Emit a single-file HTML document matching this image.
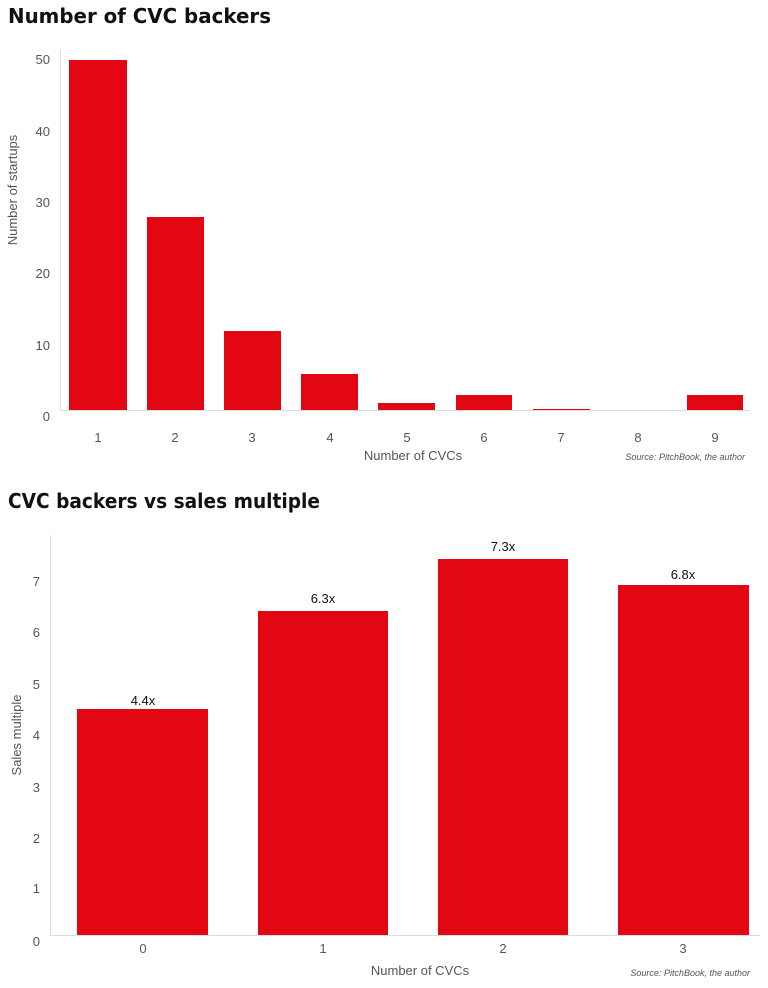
<!DOCTYPE html>
<html><head><meta charset="utf-8"><style>
body{margin:0;background:#fff;width:768px;height:988px;overflow:hidden}
svg{display:block}
.t{font-family:"DejaVu Sans","Liberation Sans",sans-serif;font-weight:bold;font-size:20px;fill:#111}
.l{font-family:"Liberation Sans",sans-serif;font-size:13px;fill:#555}
.s{font-family:"Liberation Sans",sans-serif;font-size:9px;font-style:italic;fill:#555}
.v{font-family:"Liberation Sans",sans-serif;font-size:13px;fill:#111}
</style></head><body>
<svg width="768" height="988" viewBox="0 0 768 988">
<text class="t" x="8" y="23" textLength="263" lengthAdjust="spacingAndGlyphs">Number of CVC backers</text>
<line x1="60.5" y1="50" x2="60.5" y2="411" stroke="#ddd"/>
<line x1="60" y1="410.5" x2="750" y2="410.5" stroke="#ddd"/>
<g class="l" text-anchor="end">
<text x="50" y="421">0</text><text x="50" y="350">10</text><text x="50" y="278">20</text>
<text x="50" y="207">30</text><text x="50" y="136">40</text><text x="50" y="64">50</text></g>
<text class="l" transform="translate(17,190) rotate(-90)" text-anchor="middle">Number of startups</text>
<g fill="#e30613">
<rect x="69" y="60" width="58" height="350"/>
<rect x="147" y="217" width="57" height="193"/>
<rect x="224" y="331" width="57" height="79"/>
<rect x="301" y="374" width="57" height="36"/>
<rect x="378" y="403" width="57" height="7"/>
<rect x="456" y="395" width="56" height="15"/>
<rect x="533" y="409" width="57" height="1"/>
<rect x="687" y="395" width="56" height="15"/>
</g>
<g class="l" text-anchor="middle">
<text x="98" y="442">1</text><text x="175" y="442">2</text><text x="252" y="442">3</text>
<text x="330" y="442">4</text><text x="407" y="442">5</text><text x="484" y="442">6</text>
<text x="561" y="442">7</text><text x="638" y="442">8</text><text x="715" y="442">9</text>
<text x="413" y="460">Number of CVCs</text></g>
<text class="s" x="745" y="460" text-anchor="end">Source: PitchBook, the author</text>

<text class="t" x="8" y="508" textLength="312" lengthAdjust="spacingAndGlyphs">CVC backers vs sales multiple</text>
<line x1="50.5" y1="535" x2="50.5" y2="936" stroke="#ddd"/>
<line x1="50" y1="935.5" x2="760" y2="935.5" stroke="#ddd"/>
<g class="l" text-anchor="end">
<text x="40" y="946">0</text><text x="40" y="893">1</text><text x="40" y="843">2</text>
<text x="40" y="792">3</text><text x="40" y="740">4</text><text x="40" y="689">5</text>
<text x="40" y="637">6</text><text x="40" y="586">7</text></g>
<text class="l" transform="translate(21,735) rotate(-90)" text-anchor="middle">Sales multiple</text>
<g fill="#e30613">
<rect x="77" y="709" width="131" height="226"/>
<rect x="258" y="611" width="130" height="324"/>
<rect x="438" y="559" width="130" height="376"/>
<rect x="618" y="585" width="131" height="350"/>
</g>
<g class="v" text-anchor="middle">
<text x="143" y="705">4.4x</text><text x="323" y="603">6.3x</text>
<text x="503" y="551">7.3x</text><text x="683" y="579">6.8x</text></g>
<g class="l" text-anchor="middle">
<text x="143" y="953">0</text><text x="323" y="953">1</text><text x="503" y="953">2</text><text x="683" y="953">3</text>
<text x="420" y="975">Number of CVCs</text></g>
<text class="s" x="750" y="976" text-anchor="end">Source: PitchBook, the author</text>
</svg>
</body></html>
